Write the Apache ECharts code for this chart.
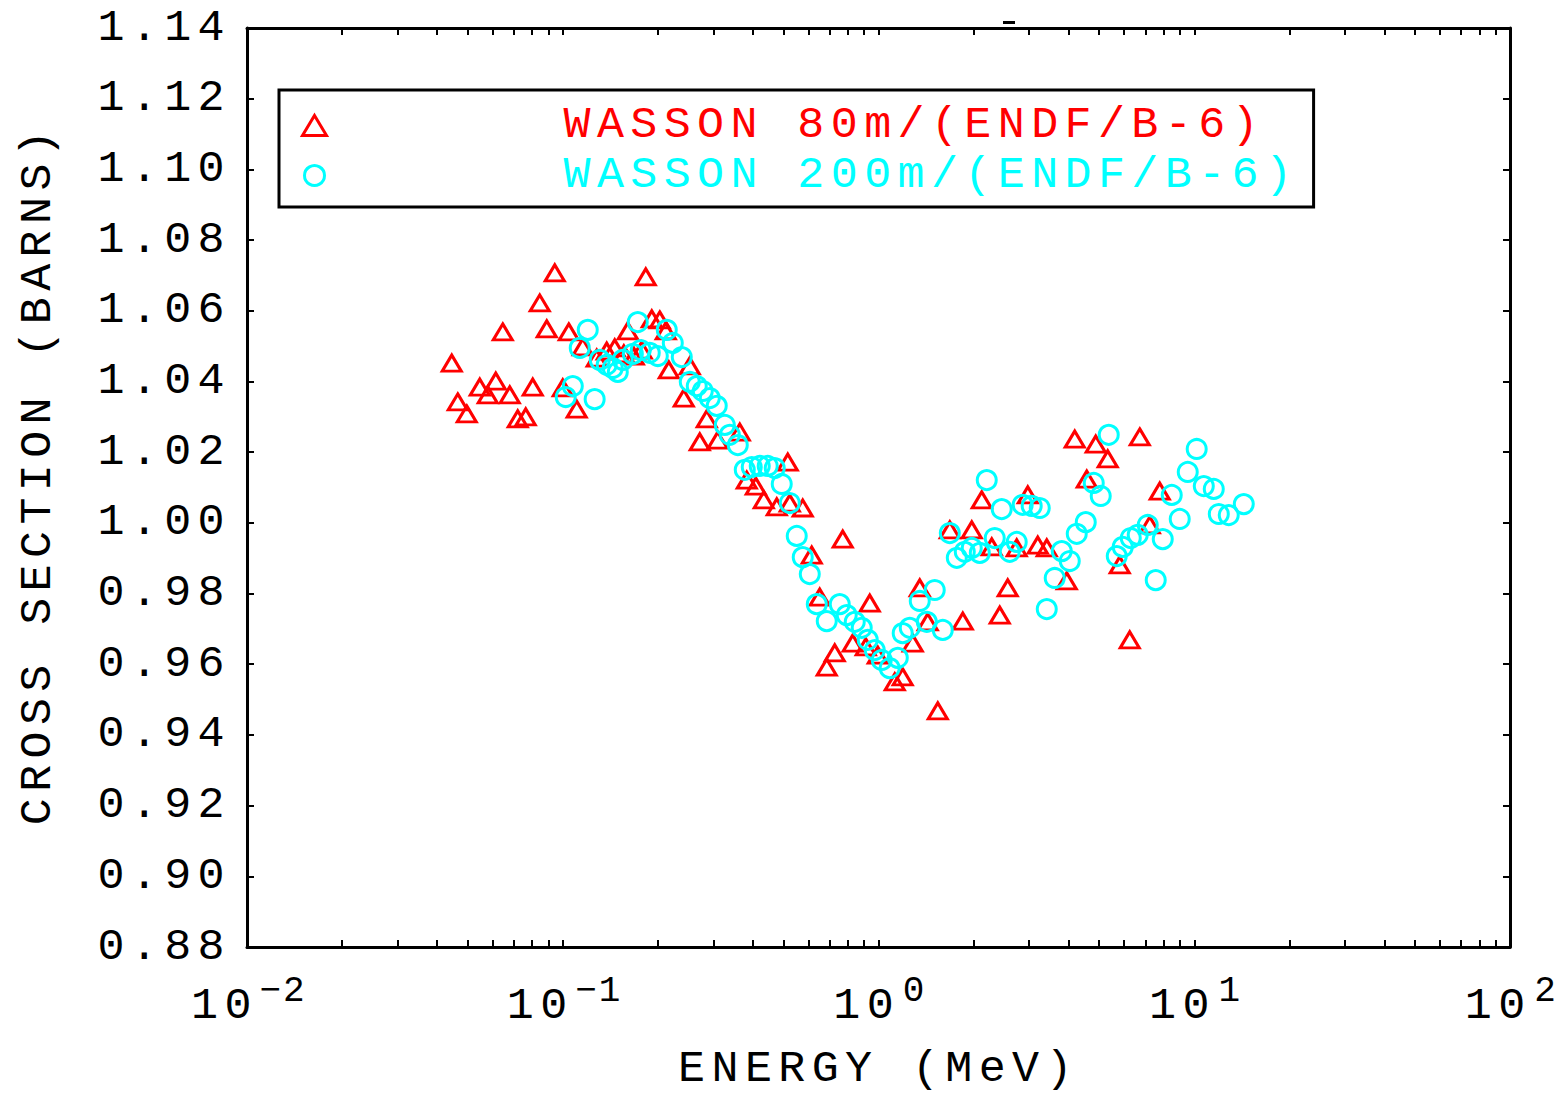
<!DOCTYPE html>
<html><head><meta charset="utf-8">
<script src="https://cdn.jsdelivr.net/npm/echarts@6/dist/echarts.min.js"></script>
<style>
html,body{margin:0;padding:0;background:#fff;}
#main{width:1558px;height:1094px;}
#main text{letter-spacing:6.4px;}
#main text[style*="36px"]{letter-spacing:2px;}
</style></head><body><div id="main"></div>
<script>
// WASSON 80m / (ENDF/B-6)
const energy80 = [0.04451,0.04651,0.04966,0.0546,0.05788,0.06136,0.06457,0.06795,0.07202,0.07634,
  0.08035,0.08456,0.08899,0.09434,0.1,0.1045,0.1107,0.1157,0.1281,0.1378,
  0.1461,0.1561,0.1607,0.1679,0.1779,0.1832,0.1914,0.2029,0.212,0.2167,
  0.2417,0.2525,0.2716,0.2858,0.3097,0.3636,0.3826,0.4087,0.4332,0.4762,
  0.516,0.5236,0.5755,0.6145,0.6514,0.6856,0.7268,0.7704,0.8288,0.9112,
  0.9382,0.9945,1.126,1.193,1.284,1.351,1.432,1.541,1.682,1.849,
  1.974,2.123,2.284,2.421,2.566,2.74,2.97,3.194,3.411,3.947,
  4.183,4.566,4.875,5.321,5.808,6.247,6.722,7.231,7.775];
const sigma80 = [1.0452,1.0342,1.0308,1.0384,1.0362,1.0401,1.054,1.0362,1.0294,1.03,
  1.0384,1.0622,1.0549,1.0707,1.0382,1.054,1.0322,1.0498,1.0466,1.0486,
  1.0495,1.0478,1.0543,1.0472,1.0489,1.0696,1.0577,1.0574,1.0543,1.0433,
  1.0353,1.0444,1.0229,1.0294,1.0234,1.0257,1.0121,1.0104,1.0065,1.0045,
  1.0172,1.0056,1.0042,0.9909,0.979,0.9592,0.9632,0.9954,0.966,0.9649,
  0.9773,0.9626,0.955,0.9564,0.966,0.9816,0.972,0.9468,0.998,0.9722,
  0.998,1.0065,0.9932,0.9739,0.9816,0.9929,1.0079,0.9937,0.9929,0.9836,
  1.0237,1.0124,1.0223,1.0181,0.9881,0.9669,1.0243,0.9994,1.009];

// WASSON 200m / (ENDF/B-6)
const energy200 = [0.1022,0.1076,0.1132,0.12,0.1262,0.131,0.1378,0.144,0.1494,0.1549,
  0.1667,0.1728,0.1766,0.1886,0.2,0.2135,0.2231,0.2382,0.2525,0.2657,
  0.2776,0.2922,0.3074,0.326,0.3381,0.3584,0.3771,0.3968,0.4206,0.4458,
  0.4692,0.4938,0.5236,0.5509,0.5755,0.6058,0.6376,0.6856,0.7538,0.7932,
  0.841,0.8848,0.9245,0.973,1.024,1.085,1.151,1.193,1.256,1.351,
  1.422,1.507,1.598,1.682,1.77,1.876,1.974,2.093,2.202,2.334,
  2.456,2.604,2.74,2.862,3.056,3.241,3.411,3.615,3.805,4.034,
  4.245,4.533,4.805,5.056,5.36,5.683,5.937,6.294,6.622,7.123,
  7.551,7.948,8.486,8.995,9.537,10.18,10.72,11.53,11.96,12.86,14.35];
const sigma200 = [1.0356,1.0387,1.0495,1.0546,1.035,1.0461,1.0447,1.0438,1.0427,1.0461,
  1.0478,1.0568,1.0489,1.0481,1.0472,1.0546,1.0509,1.0469,1.0399,1.0387,
  1.0373,1.0353,1.0331,1.0277,1.0249,1.022,1.015,1.0158,1.0161,1.0161,
  1.0155,1.011,1.0056,0.9963,0.9903,0.9855,0.977,0.9722,0.977,0.9739,
  0.972,0.9703,0.9669,0.964,0.9612,0.9589,0.9618,0.9688,0.9703,0.9779,
  0.972,0.981,0.9697,0.9971,0.9901,0.9918,0.9929,0.9915,1.0121,0.9957,
  1.0039,0.9918,0.9946,1.0051,1.0048,1.0042,0.9756,0.9844,0.992,0.9892,
  0.9969,1.0002,1.0113,1.0076,1.0249,0.9906,0.9932,0.9957,0.9966,0.9994,
  0.9838,0.9954,1.0079,1.0011,1.0144,1.0209,1.0104,1.0096,1.0025,1.0022,1.0053];

const seriesNames = ['WASSON 80m/(ENDF/B-6)', 'WASSON 200m/(ENDF/B-6)'];
const xMajorTicks = [0.01, 0.1, 1, 10, 100];
const xExponents = ['\u22122', '\u22121', '0', '1', '2'];
const yTicks = [0.88, 0.90, 0.92, 0.94, 0.96, 0.98, 1.00, 1.02, 1.04, 1.06, 1.08, 1.10, 1.12, 1.14];
const yTickLabels = ['0.88','0.90','0.92','0.94','0.96','0.98','1.00','1.02','1.04','1.06','1.08','1.10','1.12','1.14'];
const xTitle = 'ENERGY (MeV)';
const yTitle = 'CROSS SECTION (BARNS)';

// all x tick positions (1..9 within each decade)
const xAllTicks = [];
for (let d = 0; d < xMajorTicks.length - 1; d++) {
  for (let m = 1; m <= 9; m++) xAllTicks.push(+(m * xMajorTicks[d]).toPrecision(6));
}
xAllTicks.push(xMajorTicks[xMajorTicks.length - 1]);

const FONT = 'Liberation Mono';
const FS = 45;
const RED = '#ff0000', CYAN = '#00ffff';

function xLabel(v) {
  let idx = 0, best = 1e9;
  xMajorTicks.forEach((t, i) => { const d = Math.abs(Math.log10(t) - Math.log10(v)); if (d < best) { best = d; idx = i; } });
  return '{b|10}{s|' + xExponents[idx] + '}';
}
function yLabel(v) {
  let idx = 0, best = 1e9;
  yTicks.forEach((t, i) => { const d = Math.abs(t - v); if (d < best) { best = d; idx = i; } });
  return yTickLabels[idx];
}

const tickCommon = { show: true, inside: true, length: 7, lineStyle: { color: '#000', width: 2 } };
const lineCommon = { show: true, onZero: false, lineStyle: { color: '#000', width: 3 } };

const chart = echarts.init(document.getElementById('main'), null, { renderer: 'svg' });
chart.setOption({
  animation: false,
  backgroundColor: '#fff',
  textStyle: { fontFamily: FONT },
  grid: { left: 247, right: 48, top: 28, bottom: 147, outerBoundsMode: 'none', containLabel: false },
  legend: {
    orient: 'vertical', left: 279, top: 90,
    padding: [13, 156, 9, 22],
    itemWidth: 24, itemHeight: 20, itemGap: 5,
    borderColor: '#000', borderWidth: 3, backgroundColor: '#fff',
    selectedMode: false,
    textStyle: { fontFamily: FONT, fontSize: FS, padding: [0, 0, 0, 232] },
    data: [
      { name: seriesNames[0], icon: 'triangle', itemStyle: { color: 'rgba(0,0,0,0)', borderColor: RED, borderWidth: 3 }, textStyle: { color: RED } },
      { name: seriesNames[1], icon: 'circle', itemStyle: { color: 'rgba(0,0,0,0)', borderColor: CYAN, borderWidth: 3 }, textStyle: { color: CYAN } }
    ]
  },
  xAxis: [
    {
      type: 'log', logBase: 10, min: 0.01, max: 100, position: 'bottom',
      axisLine: lineCommon,
      axisTick: Object.assign({}, tickCommon, { customValues: xAllTicks }),
      splitLine: { show: false }, minorTick: { show: false },
      axisLabel: {
        customValues: xMajorTicks, margin: 26, color: '#000', formatter: xLabel,
        rich: {
          b: { fontFamily: FONT, fontSize: FS, lineHeight: 56, verticalAlign: 'bottom', color: '#000', padding: [0, 0, 0, 8] },
          s: { fontFamily: FONT, fontSize: 36, lineHeight: 32, verticalAlign: 'top', color: '#000', padding: [0, 0, 0, 10] }
        }
      },
      name: xTitle, nameLocation: 'middle', nameGap: 100,
      nameTextStyle: { fontFamily: FONT, fontSize: FS, color: '#000' }
    },
    {
      type: 'log', logBase: 10, min: 0.01, max: 100, position: 'top',
      axisLine: lineCommon,
      axisTick: Object.assign({}, tickCommon, { customValues: xAllTicks }),
      axisLabel: { show: false }, splitLine: { show: false }
    }
  ],
  yAxis: [
    {
      type: 'value', min: 0.88, max: 1.14, interval: 0.02, position: 'left',
      axisLine: lineCommon, axisTick: tickCommon, splitLine: { show: false },
      axisLabel: { margin: 16, color: '#000', fontFamily: FONT, fontSize: FS, formatter: yLabel },
      name: yTitle, nameLocation: 'middle', nameGap: 186, nameRotate: 90,
      nameTextStyle: { fontFamily: FONT, fontSize: FS, color: '#000', padding: [0, 0, 0, 26] }
    },
    {
      type: 'value', min: 0.88, max: 1.14, interval: 0.02, position: 'right',
      axisLine: lineCommon, axisTick: tickCommon, splitLine: { show: false },
      axisLabel: { show: false }
    }
  ],
  graphic: [
    { type: 'rect', shape: { x: 1003, y: 21, width: 12, height: 3 }, style: { fill: '#000' }, silent: true }
  ],
  series: [
    {
      name: seriesNames[0], type: 'scatter', symbol: 'triangle', symbolSize: [19, 16],
      itemStyle: { color: 'rgba(0,0,0,0)', borderColor: RED, borderWidth: 3, opacity: 1 },
      data: energy80.map((e, i) => [e, sigma80[i]]), z: 2
    },
    {
      name: seriesNames[1], type: 'scatter', symbol: 'circle', symbolSize: 19,
      itemStyle: { color: 'rgba(0,0,0,0)', borderColor: CYAN, borderWidth: 3, opacity: 1 },
      data: energy200.map((e, i) => [e, sigma200[i]]), z: 3
    }
  ]
});
</script></body></html>
